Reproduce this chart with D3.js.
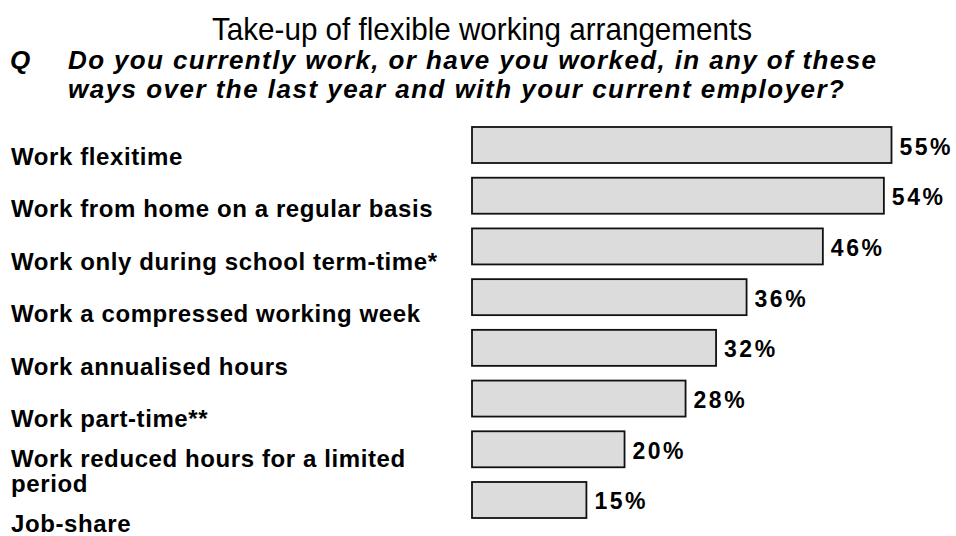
<!DOCTYPE html>
<html>
<head>
<meta charset="utf-8">
<script src="https://cdn.jsdelivr.net/npm/d3@7"></script>
<style>
  html, body { margin: 0; padding: 0; background: #fff; }
  svg { display: block; font-family: "Liberation Sans", Arial, Helvetica, sans-serif; }
</style>
</head>
<body>
<div id="chart"></div>
<script>
// chart data
var title = "Take-up of flexible working arrangements";
var question = ["Do you currently work, or have you worked, in any of these",
                "ways over the last year and with your current employer?"];
var categories = [
  "Work flexitime",
  "Work from home on a regular basis",
  "Work only during school term-time*",
  "Work a compressed working week",
  "Work annualised hours",
  "Work part-time**",
  "Work reduced hours for a limited\nperiod",
  "Job-share"
];
var values = [55, 54, 46, 36, 32, 28, 20, 15];

var W = 956, H = 536;

var svg = d3.select("#chart").append("svg")
  .attr("width", W)
  .attr("height", H);

// title + question
svg.append("text")
  .attr("x", 482).attr("y", 40)
  .attr("text-anchor", "middle")
  .attr("textLength", 540)
  .attr("lengthAdjust", "spacingAndGlyphs")
  .style("font-size", "32px")
  .attr("fill", "#000")
  .text(title);

svg.append("text")
  .attr("x", 10).attr("y", 69)
  .style("font-size", "26px").style("font-weight", "bold").style("font-style", "italic")
  .text("Q");

var qWidths = [808, 776];
svg.selectAll("text.q")
  .data(question)
  .enter().append("text")
  .attr("class", "q")
  .attr("x", 68)
  .attr("y", function(d, i) { return 69 + i * 28.5; })
  .attr("textLength", function(d, i) { return qWidths[i]; })
  .attr("lengthAdjust", "spacing")
  .style("font-size", "26px").style("font-weight", "bold").style("font-style", "italic")
  .text(function(d) { return d; });

// scales
var x = d3.scaleLinear()
  .domain([0, 55])
  .range([472, 891.5]);

var y = d3.scaleBand()
  .domain(categories)
  .range([127, 518])
  .paddingInner(0.29)
  .paddingOuter(0);

// labels sit on their own evenly spaced rows
var yLabel = d3.scalePoint()
  .domain(categories)
  .range([164.5, 532]);

var rows = categories.map(function(c, i) { return { cat: c, val: values[i] }; });

// bars
svg.selectAll("rect.bar")
  .data(rows)
  .enter().append("rect")
  .attr("class", "bar")
  .attr("x", x(0))
  .attr("y", function(d) { return y(d.cat); })
  .attr("width", function(d) { return x(d.val) - x(0); })
  .attr("height", y.bandwidth())
  .attr("fill", "#dcdcdc")
  .attr("stroke", "#111")
  .attr("stroke-width", 1.8);

// value labels
svg.selectAll("text.val")
  .data(rows)
  .enter().append("text")
  .attr("class", "val")
  .attr("x", function(d) { return x(d.val) + 8; })
  .attr("y", function(d) { return y(d.cat) + y.bandwidth() / 2 + 9.5; })
  .style("font-size", "23px").style("font-weight", "bold")
  .style("letter-spacing", "2.5px")
  .text(function(d) { return d.val + "%"; });

// category labels
var lab = svg.selectAll("text.cat")
  .data(rows)
  .enter().append("text")
  .attr("class", "cat")
  .attr("x", 11)
  .attr("y", function(d) { return yLabel(d.cat); })
  .style("font-size", "24px").style("font-weight", "bold")
  .style("letter-spacing", "0.6px");

lab.each(function(d) {
  var lines = d.cat.split("\n");
  var t = d3.select(this);
  lines.forEach(function(l, i) {
    t.append("tspan")
      .attr("x", 11)
      .attr("dy", i === 0 ? -(lines.length - 1) * 12.5 : 25)
      .text(l);
  });
});
</script>
</body>
</html>
